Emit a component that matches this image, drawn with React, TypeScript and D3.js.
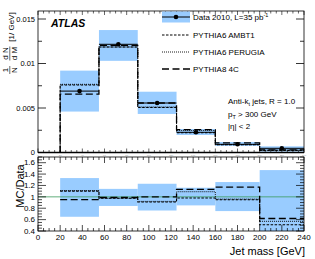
import React from "react";
import * as d3 from "d3";

const binEdges = [20, 55, 90, 125, 160, 200, 240];
const dataValues = [0.0069, 0.01216, 0.00556, 0.00227, 0.00092, 0.00047];
const dataBandHigh = [0.0092, 0.01376, 0.00683, 0.00264, 0.00118, 0.00069];
const dataBandLow = [0.0046, 0.0103, 0.00433, 0.00197, 0.00074, 0.0001];
const ratioAMBT1 = [1.1, 0.975, 0.91, 0.98, 0.95, 0.51];
const ratioPerugia = [1.11, 0.975, 0.92, 1.09, 0.96, 0.57];
const ratio4C = [0.95, 0.99, 1.0, 1.13, 1.17, 0.62];
const ratioBandHigh = [1.33, 1.14, 1.23, 1.16, 1.26, 1.47];
const ratioBandLow = [0.65, 0.84, 0.76, 0.85, 0.75, 0.3];
const upperTicks = [0, 0.005, 0.01, 0.015];
const upperTickLabels = ["0", "0.005", "0.01", "0.015"];
const lowerTicks = [0.4, 0.6, 0.8, 1.0, 1.2, 1.4, 1.6];
const lowerTickLabels = ["0.4", "0.6", "0.8", "1", "1.2", "1.4", "1.6"];
const xTicks = [0, 20, 40, 60, 80, 100, 120, 140, 160, 180, 200, 220, 240];

const FONT = "'Liberation Sans', Arial, Helvetica, sans-serif";
const BAND = "#99ccff";

const x = d3.scaleLinear().domain([0, 240]).range([38, 304]);
const yU = d3.scaleLinear().domain([0, 0.0159]).range([152.5, 11]);
const yL = d3.scaleLinear().domain([0.4, 1.7]).range([231, 157]);

function stepPath(vals: number[], y: d3.ScaleLinear<number, number>, fromZero: boolean) {
  const p = d3.path();
  if (fromZero) {
    p.moveTo(x(binEdges[0]), y(0));
    p.lineTo(x(binEdges[0]), y(vals[0]));
  } else {
    p.moveTo(x(binEdges[0]), y(vals[0]));
  }
  vals.forEach((v, i) => {
    p.lineTo(x(binEdges[i]), y(v));
    p.lineTo(x(binEdges[i + 1]), y(v));
  });
  return p.toString();
}

const mcStyles = [
  { name: "PYTHIA6 AMBT1", dash: "2.5,1.5", width: 1.1 },
  { name: "PYTHIA6 PERUGIA", dash: "1,1", width: 0.9 },
  { name: "PYTHIA8 4C", dash: "7,3.5", width: 1.3 },
];

export default function App() {
  const mcRatios = [ratioAMBT1, ratioPerugia, ratio4C];
  const mcUpper = mcRatios.map((r) => r.map((v, i) => v * dataValues[i]));
  const bins = dataValues.map((_, i) => i);
  const upperMinor = d3.range(0, 0.0159, 0.0025);
  const lowerMinor = d3.range(0.4, 1.701, 0.05);
  const xMinor = d3.range(0, 241, 5);

  const legendY = [17, 35, 52, 69];

  return (
    <svg width={315} height={259} style={{ position: "absolute", left: 0, top: 0 }} fontFamily={FONT}>
      <rect width={315} height={259} fill="white" />
      <defs>
        <clipPath id="cu"><rect x={38} y={11} width={266} height={141.5} /></clipPath>
        <clipPath id="cl"><rect x={38} y={157} width={266} height={74} /></clipPath>
      </defs>
      <g clipPath="url(#cu)">
        {bins.map((i) => (
          <rect key={i} x={x(binEdges[i])} width={x(binEdges[i + 1]) - x(binEdges[i])}
            y={yU(dataBandHigh[i])} height={yU(dataBandLow[i]) - yU(dataBandHigh[i])} fill={BAND} />
        ))}
        {bins.map((i) => (
          <line key={"d" + i} x1={x(binEdges[i])} x2={x(binEdges[i + 1])} y1={yU(dataValues[i])} y2={yU(dataValues[i])} stroke="black" strokeWidth={1} />
        ))}
        {mcStyles.map((s, k) => (
          <path key={k} d={stepPath(mcUpper[k], yU, true)} fill="none" stroke="black" strokeWidth={s.width} strokeDasharray={s.dash} />
        ))}
        {bins.map((i) => (
          <circle key={"c" + i} cx={x((binEdges[i] + binEdges[i + 1]) / 2)} cy={yU(dataValues[i])} r={2.3} fill="black" />
        ))}
      </g>
      <rect x={38} y={11} width={266} height={141.5} fill="none" stroke="black" strokeWidth={0.8} />
      <line x1={38} x2={304} y1={152.5} y2={152.5} stroke="black" strokeWidth={1.6} />
      {upperMinor.map((t, i) => {
        const major = i % 2 === 0;
        const L = major ? 8 : 4;
        return (
          <g key={"ut" + i}>
            <line x1={38} x2={38 + L} y1={yU(t)} y2={yU(t)} stroke="black" strokeWidth={0.8} />
            <line x1={304} x2={304 - L} y1={yU(t)} y2={yU(t)} stroke="black" strokeWidth={0.8} />
          </g>
        );
      })}
      {upperTicks.map((t, i) => (
        <text key={"utl" + i} x={35} y={yU(t) + 2.7} fontSize={7.5} textAnchor="end">{upperTickLabels[i]}</text>
      ))}
      {xMinor.map((t, i) => {
        const major = t % 20 === 0;
        const L = major ? 4 : 2.5;
        return (
          <g key={"xt" + i}>
            <line x1={x(t)} x2={x(t)} y1={11} y2={11 + L} stroke="black" strokeWidth={0.6} />
            <line x1={x(t)} x2={x(t)} y1={152.5} y2={152.5 - L} stroke="black" strokeWidth={0.6} />
          </g>
        );
      })}
      {xTicks.map((t, i) => (
        <text key={"xtu" + i} x={x(t)} y={155.5} fontSize={2.5} fill="#999" textAnchor="middle">{t}</text>
      ))}
      <g transform="translate(0,80) rotate(-90)" fontSize={8}>
        <text x={10} y={8} textAnchor="middle">1</text>
        <line x1={6} x2={14} y1={9.8} y2={9.8} stroke="black" strokeWidth={0.6} />
        <text x={10} y={16.5} textAnchor="middle">N</text>
        <text x={26.5} y={8} textAnchor="middle">d N</text>
        <line x1={19.5} x2={33.5} y1={9.8} y2={9.8} stroke="black" strokeWidth={0.6} />
        <text x={26.5} y={16.5} textAnchor="middle">d M</text>
        <text x={53} y={13.5} textAnchor="middle" fontSize={8}>[1/ GeV]</text>
      </g>
      <text x={51} y={27} fontSize={10.5} fontWeight="bold" fontStyle="italic">ATLAS</text>
      <rect x={162} y={legendY[0] - 5.5} width={28} height={11} fill={BAND} />
      <line x1={162} x2={190} y1={legendY[0]} y2={legendY[0]} stroke="black" strokeWidth={1} />
      <circle cx={176} cy={legendY[0]} r={2.3} fill="black" />
      <text x={193} y={legendY[0] + 2.9} fontSize={8}>
        Data 2010, L=35 pb<tspan dy={-3.2} fontSize={5.5}>-1</tspan>
      </text>
      {mcStyles.map((s, k) => (
        <g key={"lg" + k}>
          <line x1={162} x2={190} y1={legendY[k + 1]} y2={legendY[k + 1]} stroke="black" strokeWidth={s.width} strokeDasharray={s.dash} />
          <text x={193} y={legendY[k + 1] + 2.9} fontSize={8}>{s.name}</text>
        </g>
      ))}
      <text x={228} y={104} fontSize={8}>Anti-k<tspan dy={2} fontSize={5.5}>t</tspan><tspan dy={-2}> jets, R = 1.0</tspan></text>
      <text x={228} y={116.5} fontSize={8}>p<tspan dy={2} fontSize={5.5}>T</tspan><tspan dy={-2}> &gt; 300 GeV</tspan></text>
      <text x={228} y={128.5} fontSize={8}>|η| &lt; 2</text>

      <g clipPath="url(#cl)">
        {bins.map((i) => (
          <rect key={"lb" + i} x={x(binEdges[i])} width={x(binEdges[i + 1]) - x(binEdges[i])}
            y={yL(ratioBandHigh[i])} height={yL(ratioBandLow[i]) - yL(ratioBandHigh[i])} fill={BAND} />
        ))}
        <line x1={38} x2={304} y1={yL(1)} y2={yL(1)} stroke="#3a9a5a" strokeWidth={0.8} />
        {mcStyles.map((s, k) => (
          <path key={"lp" + k} d={stepPath(mcRatios[k], yL, false)} fill="none" stroke="black" strokeWidth={s.width} strokeDasharray={s.dash} />
        ))}
      </g>
      <rect x={38} y={157} width={266} height={74} fill="none" stroke="black" strokeWidth={0.8} />
      {lowerMinor.map((t, i) => {
        const major = i % 4 === 0;
        const L = major ? 8 : 4;
        return (
          <g key={"lt" + i}>
            <line x1={38} x2={38 + L} y1={yL(t)} y2={yL(t)} stroke="black" strokeWidth={0.7} />
            <line x1={304} x2={304 - L} y1={yL(t)} y2={yL(t)} stroke="black" strokeWidth={0.7} />
          </g>
        );
      })}
      {lowerTicks.map((t, i) => (
        <text key={"ltl" + i} x={35} y={yL(t) + 2.8} fontSize={8} textAnchor="end">{lowerTickLabels[i]}</text>
      ))}
      {xMinor.map((t, i) => {
        const major = t % 20 === 0;
        const L = major ? 6 : 3;
        return (
          <g key={"lx" + i}>
            <line x1={x(t)} x2={x(t)} y1={231} y2={231 - L} stroke="black" strokeWidth={0.7} />
            <line x1={x(t)} x2={x(t)} y1={157} y2={157 + L} stroke="black" strokeWidth={0.7} />
          </g>
        );
      })}
      {xTicks.map((t, i) => (
        <text key={"xl" + i} x={x(t)} y={240} fontSize={8} textAnchor="middle">{t}</text>
      ))}
      <text x={305} y={254.5} fontSize={11} textAnchor="end">Jet mass [GeV]</text>
      <text transform="translate(24,186) rotate(-90)" fontSize={11} textAnchor="middle">MC/Data</text>
    </svg>
  );
}
